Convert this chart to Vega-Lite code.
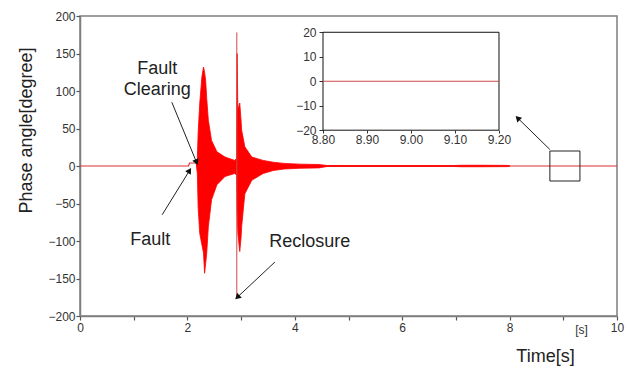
{
  "$schema": "https://vega.github.io/schema/vega-lite/v6.json",
  "width": 537,
  "height": 300,
  "autosize": {"type": "none"},
  "padding": {"left": 80, "top": 16, "right": 13, "bottom": 52},
  "background": "white",
  "config": {
    "view": {"stroke": "#7f7f7f", "strokeWidth": 1.5},
    "font": "Liberation Sans",
    "axis": {"grid": false, "labelFont": "Liberation Sans", "titleFont": "Liberation Sans", "labelOverlap": false, "labelFlush": false}
  },
  "datasets": {
    "env": [
      {"t": 2.17, "hi": 2, "lo": -1},
      {"t": 2.185, "hi": 10, "lo": -10},
      {"t": 2.2, "hi": 44, "lo": -55},
      {"t": 2.23, "hi": 84, "lo": -90},
      {"t": 2.27, "hi": 119, "lo": -105},
      {"t": 2.3, "hi": 132, "lo": -116},
      {"t": 2.32, "hi": 125, "lo": -143},
      {"t": 2.34, "hi": 114, "lo": -130},
      {"t": 2.36, "hi": 90, "lo": -116},
      {"t": 2.39, "hi": 61, "lo": -81},
      {"t": 2.45, "hi": 34, "lo": -45},
      {"t": 2.55, "hi": 19, "lo": -25},
      {"t": 2.7, "hi": 12, "lo": -14},
      {"t": 2.88, "hi": 7.5, "lo": -10},
      {"t": 2.915, "hi": 10, "lo": -12},
      {"t": 2.925, "hi": 150, "lo": -60},
      {"t": 2.94, "hi": 75, "lo": -90},
      {"t": 2.975, "hi": 84, "lo": -114},
      {"t": 3.0, "hi": 60, "lo": -95},
      {"t": 3.01, "hi": 48, "lo": -81},
      {"t": 3.07, "hi": 25.6, "lo": -37},
      {"t": 3.2, "hi": 12, "lo": -19},
      {"t": 3.41, "hi": 7.5, "lo": -10},
      {"t": 3.6, "hi": 5, "lo": -6},
      {"t": 3.8, "hi": 3.5, "lo": -4},
      {"t": 4.1, "hi": 2.5, "lo": -3},
      {"t": 4.45, "hi": 2, "lo": -2.5},
      {"t": 4.6, "hi": 0.7, "lo": -0.7},
      {"t": 6.95, "hi": 0.6, "lo": -0.6},
      {"t": 7.1, "hi": 1.0, "lo": -1.0},
      {"t": 7.5, "hi": 1.0, "lo": -1.0},
      {"t": 7.95, "hi": 0.8, "lo": -0.8},
      {"t": 8.0, "hi": 0.5, "lo": -0.5}
    ],
    "trace": [
      {"t": 0, "v": 0},
      {"t": 2.02, "v": 0},
      {"t": 2.04, "v": 4},
      {"t": 2.16, "v": 4},
      {"t": 2.18, "v": 0},
      {"t": 10, "v": 0}
    ],
    "arrows": [
      {"name": "clearing", "x1": 1.71, "y1": 85, "x2": 2.17, "y2": 5},
      {"name": "fault", "x1": 1.53, "y1": -65, "x2": 2.04, "y2": -6},
      {"name": "reclosure", "x1": 3.63, "y1": -128, "x2": 2.93, "y2": -175},
      {"name": "zoom", "x1": 8.75, "y1": 22, "x2": 8.15, "y2": 64}
    ],
    "labels": [
      {"text": "Fault", "x": 1.44, "y": 129},
      {"text": "Clearing", "x": 1.44, "y": 101},
      {"text": "Fault", "x": 1.31, "y": -99},
      {"text": "Reclosure", "x": 4.28, "y": -101}
    ]
  },
  "layer": [
    {
      "layer": [
        {
          "data": {"name": "trace"},
          "mark": {"type": "line", "color": "#e03030", "strokeWidth": 1.2},
          "encoding": {
            "x": {"field": "t", "type": "quantitative", "scale": {"domain": [0, 10], "nice": false, "zero": false},
              "axis": {"values": [0, 1, 2, 3, 4, 5, 6, 7, 8, 9, 10], "labelExpr": "datum.value % 2 == 0 ? datum.label : ''",
                "domainColor": "#7f7f7f", "domainWidth": 1.5, "tickColor": "#555", "tickSize": 4, "tickWidth": 1.2,
                "labelFontSize": 12, "labelColor": "#333", "labelPadding": 2,
                "title": "Time[s]", "titleFontSize": 18, "titleFontWeight": "normal", "titleColor": "#222",
                "titleX": 465, "titleY": 31, "titleAlign": "center", "titleBaseline": "top"}},
            "y": {"field": "v", "type": "quantitative", "scale": {"domain": [-200, 200], "nice": false, "zero": false},
              "axis": {"values": [-200, -150, -100, -50, 0, 50, 100, 150, 200], "tickCount": 9, "format": "d",
                "labelOverlap": false, "labelBound": false,
                "domainColor": "#7f7f7f", "domainWidth": 1.5, "tickColor": "#555", "tickSize": 4, "tickWidth": 1.2,
                "labelFontSize": 12, "labelColor": "#333", "labelPadding": 1,
                "title": "Phase angle[degree]", "titleFontSize": 18, "titleFontWeight": "normal", "titleColor": "#222",
                "titleX": -54, "titleY": 114, "titleAlign": "center", "titleBaseline": "middle", "titleAngle": -90}}
          }
        },
        {
          "data": {"name": "env"},
          "mark": {"type": "area", "color": "#ff0000", "stroke": "#ff0000", "strokeWidth": 0.8},
          "encoding": {
            "x": {"field": "t", "type": "quantitative"},
            "y": {"field": "hi", "type": "quantitative"},
            "y2": {"field": "lo"}
          }
        },
        {
          "data": {"values": [{"t": 2.92, "top": 178, "bottom": -176}]},
          "mark": {"type": "rule", "color": "#d04848", "strokeWidth": 1},
          "encoding": {
            "x": {"field": "t", "type": "quantitative"},
            "y": {"field": "top", "type": "quantitative"},
            "y2": {"field": "bottom"}
          }
        },
        {
          "data": {"values": [{"x1": 8.75, "x2": 9.31, "y1": -20, "y2": 20}]},
          "mark": {"type": "rect", "fill": null, "stroke": "#222", "strokeWidth": 1},
          "encoding": {
            "x": {"field": "x1", "type": "quantitative"},
            "x2": {"field": "x2"},
            "y": {"field": "y1", "type": "quantitative"},
            "y2": {"field": "y2"}
          }
        },
        {
          "data": {"name": "arrows"},
          "mark": {"type": "rule", "color": "#222", "strokeWidth": 1},
          "encoding": {
            "x": {"field": "x1", "type": "quantitative"},
            "y": {"field": "y1", "type": "quantitative"},
            "x2": {"field": "x2"},
            "y2": {"field": "y2"}
          }
        },
        {
          "data": {"name": "arrows"},
          "transform": [{"filter": "datum.name == 'clearing'"}],
          "mark": {"type": "point", "shape": "triangle-up", "filled": true, "color": "#111", "size": 45, "angle": 158, "opacity": 1},
          "encoding": {"x": {"field": "x2", "type": "quantitative"}, "y": {"field": "y2", "type": "quantitative"}}
        },
        {
          "data": {"name": "arrows"},
          "transform": [{"filter": "datum.name == 'fault'"}],
          "mark": {"type": "point", "shape": "triangle-up", "filled": true, "color": "#111", "size": 45, "angle": 32, "opacity": 1},
          "encoding": {"x": {"field": "x2", "type": "quantitative"}, "y": {"field": "y2", "type": "quantitative"}}
        },
        {
          "data": {"name": "arrows"},
          "transform": [{"filter": "datum.name == 'reclosure'"}],
          "mark": {"type": "point", "shape": "triangle-up", "filled": true, "color": "#111", "size": 45, "angle": 226, "opacity": 1},
          "encoding": {"x": {"field": "x2", "type": "quantitative"}, "y": {"field": "y2", "type": "quantitative"}}
        },
        {
          "data": {"name": "arrows"},
          "transform": [{"filter": "datum.name == 'zoom'"}],
          "mark": {"type": "point", "shape": "triangle-up", "filled": true, "color": "#111", "size": 45, "angle": 315, "opacity": 1},
          "encoding": {"x": {"field": "x2", "type": "quantitative"}, "y": {"field": "y2", "type": "quantitative"}}
        },
        {
          "data": {"name": "labels"},
          "mark": {"type": "text", "fontSize": 18, "color": "#222", "align": "center", "baseline": "middle"},
          "encoding": {
            "x": {"field": "x", "type": "quantitative"},
            "y": {"field": "y", "type": "quantitative"},
            "text": {"field": "text"}
          }
        },
        {
          "data": {"values": [{"x": 9.34, "y": -218, "text": "[s]"}]},
          "mark": {"type": "text", "fontSize": 12, "color": "#333", "align": "center", "baseline": "middle"},
          "encoding": {
            "x": {"field": "x", "type": "quantitative"},
            "y": {"field": "y", "type": "quantitative"},
            "text": {"field": "text"}
          }
        }
      ]
    },
    {
      "layer": [
        {
          "data": {"values": [{"x1": 8.8, "x2": 9.2, "y1": -20, "y2": 20}]},
          "mark": {"type": "rect", "fill": "white", "stroke": "#111", "strokeWidth": 1},
          "encoding": {
            "x": {"field": "x1", "type": "quantitative", "scale": {"domain": [8.2477, 9.4682], "nice": false, "zero": false},
              "axis": {"orient": "bottom", "offset": -186, "values": [8.8, 8.9, 9.0, 9.1, 9.2], "format": ".2f",
                "domain": false, "tickColor": "#333", "tickSize": 3, "labelFontSize": 12, "labelColor": "#333",
                "labelPadding": 1, "title": null}},
            "x2": {"field": "x2"},
            "y": {"field": "y1", "type": "quantitative", "scale": {"domain": [-95.9, 26.65], "nice": false, "zero": false},
              "axis": {"orient": "left", "offset": -243, "values": [-20, -10, 0, 10, 20], "format": "d",
                "domain": false, "tickColor": "#333", "tickSize": 4, "labelFontSize": 12, "labelColor": "#333",
                "labelPadding": 3, "title": null}},
            "y2": {"field": "y2"}
          }
        },
        {
          "data": {"values": [{"t": 8.8, "v": 0}, {"t": 8.9, "v": 0}, {"t": 9.0, "v": 0}, {"t": 9.1, "v": 0}, {"t": 9.2, "v": 0}]},
          "mark": {"type": "line", "color": "#d04848", "strokeWidth": 1.2},
          "encoding": {
            "x": {"field": "t", "type": "quantitative"},
            "y": {"field": "v", "type": "quantitative"}
          }
        }
      ]
    }
  ],
  "resolve": {"scale": {"x": "independent", "y": "independent"}, "axis": {"x": "independent", "y": "independent"}}
}
